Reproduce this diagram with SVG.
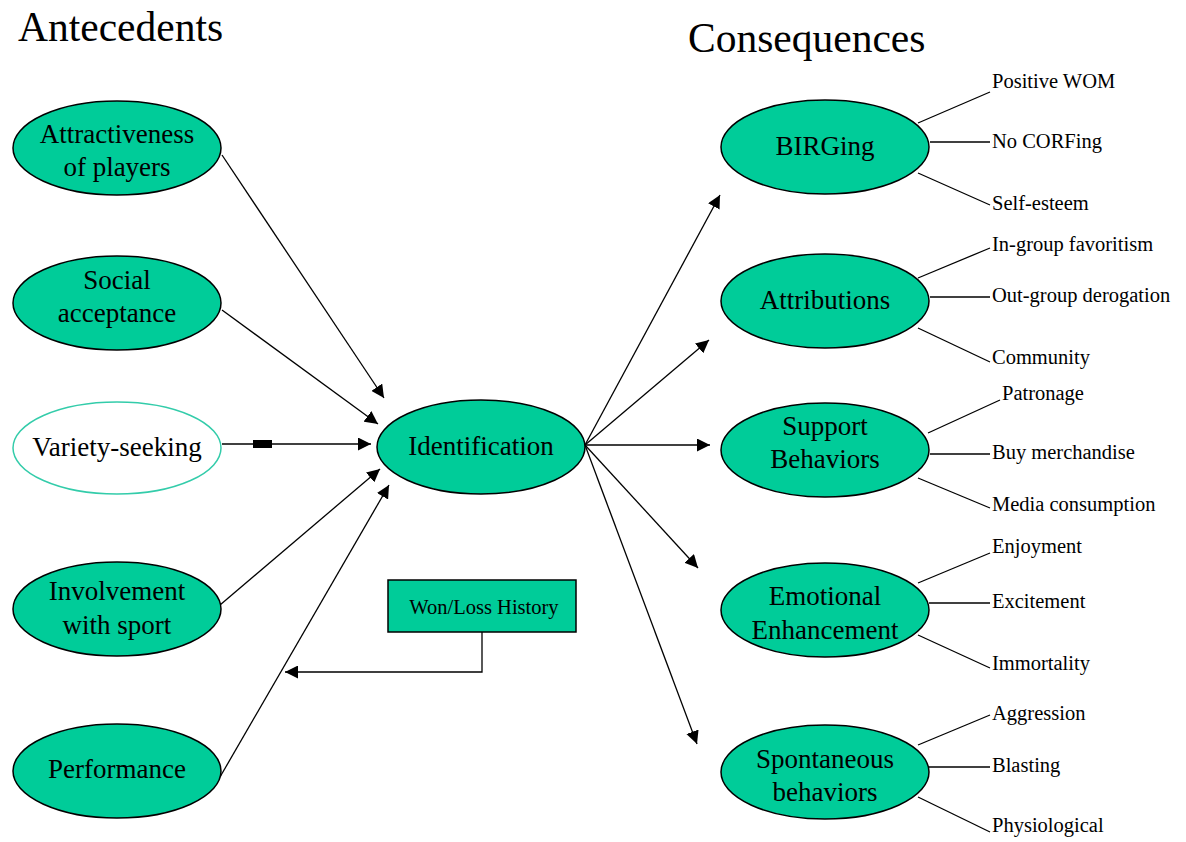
<svg xmlns="http://www.w3.org/2000/svg" width="1186" height="842" viewBox="0 0 1186 842">
<defs>
<style>
text{font-family:"Liberation Serif","Times New Roman",serif;fill:#000}
.t{font-size:41.5px}
.n{font-size:27px;text-anchor:middle}
.s{font-size:20.5px}
.e{fill:#00CC99;stroke:#000;stroke-width:1.5}
.c{stroke:#000;stroke-width:1.3;fill:none}
.a{marker-end:url(#ah)}
</style>
<marker id="ah" viewBox="0 0 10 10" refX="10" refY="5" markerWidth="13" markerHeight="13" markerUnits="userSpaceOnUse" orient="auto"><path d="M0,0 L10,5 L0,10 z" fill="#000"/></marker>
</defs>
<rect width="1186" height="842" fill="#fff"/>
<text class="t" x="18" y="41">Antecedents</text>
<text class="t" x="688" y="52">Consequences</text>

<g id="connectors">
<line class="c a" x1="222" y1="155" x2="384" y2="398"/>
<line class="c a" x1="222" y1="310" x2="378" y2="424"/>
<line class="c a" x1="222" y1="444" x2="371" y2="444"/>
<rect x="253" y="440" width="19" height="8" fill="#000"/>
<line class="c a" x1="220" y1="605" x2="380" y2="469"/>
<line class="c a" x1="220" y1="777" x2="389" y2="485"/>
<polyline class="c a" points="482,632 482,672 285,672"/>
<line class="c a" x1="585" y1="445" x2="720" y2="195"/>
<line class="c a" x1="585" y1="445" x2="709" y2="340"/>
<line class="c a" x1="585" y1="445" x2="710" y2="445"/>
<line class="c a" x1="585" y1="445" x2="698" y2="568"/>
<line class="c a" x1="585" y1="445" x2="697" y2="744"/>
<line class="c" x1="918" y1="123" x2="990" y2="92"/>
<line class="c" x1="930" y1="142" x2="990" y2="142"/>
<line class="c" x1="918" y1="173" x2="990" y2="205"/>
<line class="c" x1="918" y1="278" x2="990" y2="248"/>
<line class="c" x1="930" y1="297" x2="990" y2="297"/>
<line class="c" x1="918" y1="328" x2="990" y2="362"/>
<line class="c" x1="928" y1="433" x2="1000" y2="400"/>
<line class="c" x1="930" y1="454" x2="990" y2="454"/>
<line class="c" x1="918" y1="478" x2="990" y2="508"/>
<line class="c" x1="918" y1="583" x2="990" y2="553"/>
<line class="c" x1="929" y1="603" x2="990" y2="603"/>
<line class="c" x1="918" y1="635" x2="990" y2="668"/>
<line class="c" x1="918" y1="745" x2="990" y2="715"/>
<line class="c" x1="929" y1="767" x2="990" y2="767"/>
<line class="c" x1="918" y1="797" x2="990" y2="832"/>
</g>

<g id="attractiveness"><ellipse class="e" cx="117" cy="148" rx="104" ry="47"/><text class="n" x="117" y="143">Attractiveness</text><text class="n" x="117" y="176">of players</text></g>
<g id="social"><ellipse class="e" cx="117" cy="303" rx="104" ry="47"/><text class="n" x="117" y="289">Social</text><text class="n" x="117" y="322">acceptance</text></g>
<g id="variety"><ellipse cx="117" cy="448" rx="104" ry="46" fill="#fff" stroke="#33CCAA" stroke-width="1.5"/><text class="n" x="117" y="456">Variety-seeking</text></g>
<g id="involvement"><ellipse class="e" cx="117" cy="609" rx="104" ry="47"/><text class="n" x="117" y="600">Involvement</text><text class="n" x="117" y="634">with sport</text></g>
<g id="performance"><ellipse class="e" cx="117" cy="771" rx="104" ry="47"/><text class="n" x="117" y="778">Performance</text></g>
<g id="identification"><ellipse class="e" cx="481" cy="447" rx="104" ry="47"/><text class="n" x="481" y="455">Identification</text></g>
<g id="wonloss"><rect x="388" y="580" width="188" height="52" fill="#00CC99" stroke="#000" stroke-width="1.5"/><text x="484" y="614" style="font-size:20.5px;text-anchor:middle">Won/Loss History</text></g>

<g id="birging"><ellipse class="e" cx="825" cy="147" rx="104" ry="47"/><text class="n" x="825" y="155">BIRGing</text></g>
<g id="attributions"><ellipse class="e" cx="825" cy="301" rx="104" ry="47"/><text class="n" x="825" y="309">Attributions</text></g>
<g id="support"><ellipse class="e" cx="825" cy="450" rx="104" ry="47"/><text class="n" x="825" y="435">Support</text><text class="n" x="825" y="468">Behaviors</text></g>
<g id="emotional"><ellipse class="e" cx="825" cy="610" rx="104" ry="47"/><text class="n" x="825" y="605">Emotional</text><text class="n" x="825" y="639">Enhancement</text></g>
<g id="spontaneous"><ellipse class="e" cx="825" cy="772" rx="104" ry="47"/><text class="n" x="825" y="768">Spontaneous</text><text class="n" x="825" y="801">behaviors</text></g>

<g id="labels">
<text class="s" x="992" y="88">Positive WOM</text>
<text class="s" x="992" y="148">No CORFing</text>
<text class="s" x="992" y="210">Self-esteem</text>
<text class="s" x="992" y="251">In-group favoritism</text>
<text class="s" x="992" y="302">Out-group derogation</text>
<text class="s" x="1002" y="400">Patronage</text>
<text class="s" x="992" y="459">Buy merchandise</text>
<text class="s" x="992" y="511">Media consumption</text>
<text class="s" x="992" y="364">Community</text>
<text class="s" x="992" y="553">Enjoyment</text>
<text class="s" x="992" y="608">Excitement</text>
<text class="s" x="992" y="670">Immortality</text>
<text class="s" x="992" y="720">Aggression</text>
<text class="s" x="992" y="772">Blasting</text>
<text class="s" x="992" y="832">Physiological</text>
</g>
</svg>
